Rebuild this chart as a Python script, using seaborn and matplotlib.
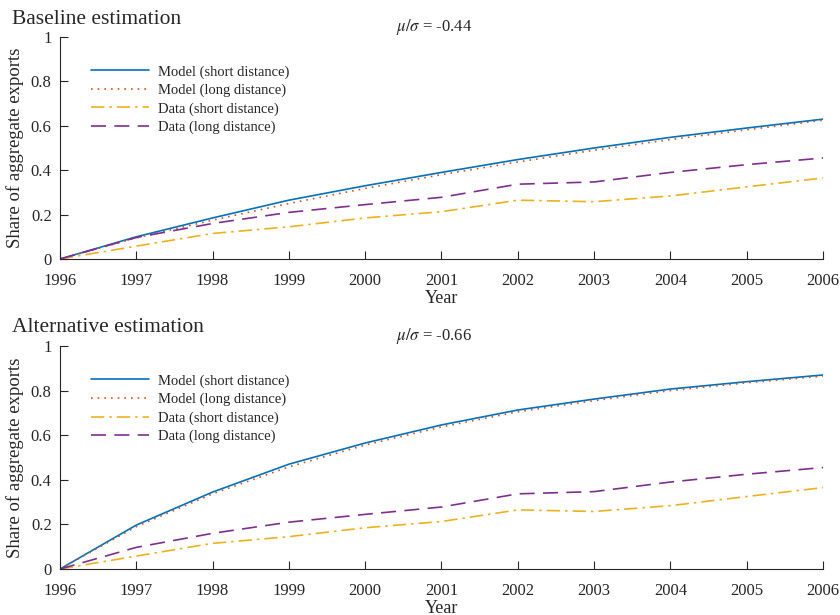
import numpy as np
import pandas as pd
import seaborn as sns
import matplotlib.pyplot as plt

# data
years = [1996, 1997, 1998, 1999, 2000, 2001, 2002, 2003, 2004, 2005, 2006]

data_short = [0, 0.058, 0.115, 0.145, 0.185, 0.213, 0.265, 0.258, 0.284, 0.325, 0.365]
data_long = [0, 0.097, 0.16, 0.21, 0.245, 0.278, 0.337, 0.347, 0.39, 0.425, 0.455]

base_model_short = [0, 0.10, 0.185, 0.265, 0.33, 0.39, 0.448, 0.50, 0.548, 0.59, 0.63]
base_model_long = [0, 0.095, 0.175, 0.25, 0.318, 0.38, 0.437, 0.49, 0.538, 0.582, 0.625]

alt_model_short = [0, 0.197, 0.345, 0.47, 0.565, 0.646, 0.713, 0.762, 0.807, 0.84, 0.87]
alt_model_long = [0, 0.19, 0.337, 0.458, 0.556, 0.637, 0.705, 0.755, 0.80, 0.835, 0.865]

panels = ["Baseline estimation", "Alternative estimation"]
ratios = ["-0.44", "-0.66"]

labels = ["Model (short distance)", "Model (long distance)",
          "Data (short distance)", "Data (long distance)"]
colors = ["#0072BD", "#D95319", "#EDB120", "#7E2F8E"]
styles = ["-", (0, (1, 3)), (0, (8, 3, 1.5, 3)), (0, (9, 5))]

sns.set_style("ticks")
plt.rcParams["font.family"] = ["Liberation Serif", "DejaVu Serif"]
plt.rcParams["mathtext.fontset"] = "stix"

fig = plt.figure(figsize=(8.4, 6.15), dpi=100)
ax1 = fig.add_axes([60 / 840, 1 - 259 / 615, 763 / 840, 222 / 615])
ax2 = fig.add_axes([60 / 840, 1 - 569 / 615, 763 / 840, 223 / 615])

models = [(base_model_short, base_model_long), (alt_model_short, alt_model_long)]
axis_col = "#262626"

for i, ax in enumerate([ax1, ax2]):
    series = [models[i][0], models[i][1], data_short, data_long]
    for vals, lab, col, ls in zip(series, labels, colors, styles):
        sns.lineplot(x=years, y=vals, ax=ax, color=col, linestyle=ls,
                     linewidth=1.2, label=lab)

    ax.set_xlim(1996, 2006)
    ax.set_ylim(0, 1)
    ax.set_xticks(years)
    ax.set_xticklabels([str(y) for y in years])
    ax.set_yticks([0, 0.2, 0.4, 0.6, 0.8, 1])
    ax.set_yticklabels(["0", "0.2", "0.4", "0.6", "0.8", "1"])
    ax.tick_params(direction="in", length=6, width=0.8, labelsize=12,
                   colors=axis_col)
    ax.tick_params(axis="x", pad=10)
    ax.tick_params(axis="y", pad=6)
    for s in ["top", "right"]:
        ax.spines[s].set_visible(False)
    for s in ["left", "bottom"]:
        ax.spines[s].set_color(axis_col)
        ax.spines[s].set_linewidth(0.8)

    ax.set_xlabel("Year", fontsize=13, color=axis_col, labelpad=1)
    ax.set_ylabel("Share of aggregate exports", fontsize=13.5, color=axis_col, labelpad=5)

    leg = ax.legend(loc="upper left", bbox_to_anchor=(0.033, 0.9), frameon=False,
                    fontsize=10.5, handlelength=4.0, handletextpad=0.6,
                    labelspacing=0.35, borderaxespad=0)

    ax.text(0.49, 1.0, r"$\mu/\sigma$ = " + ratios[i], transform=ax.transAxes,
            ha="center", va="bottom", fontsize=12)

fig.text(12 / 840, 1 - 19 / 615, panels[0], fontsize=15.5, va="center", ha="left")
fig.text(12 / 840, 1 - 327 / 615, panels[1], fontsize=15.5, va="center", ha="left")

fig.savefig("out.png", dpi=100)
